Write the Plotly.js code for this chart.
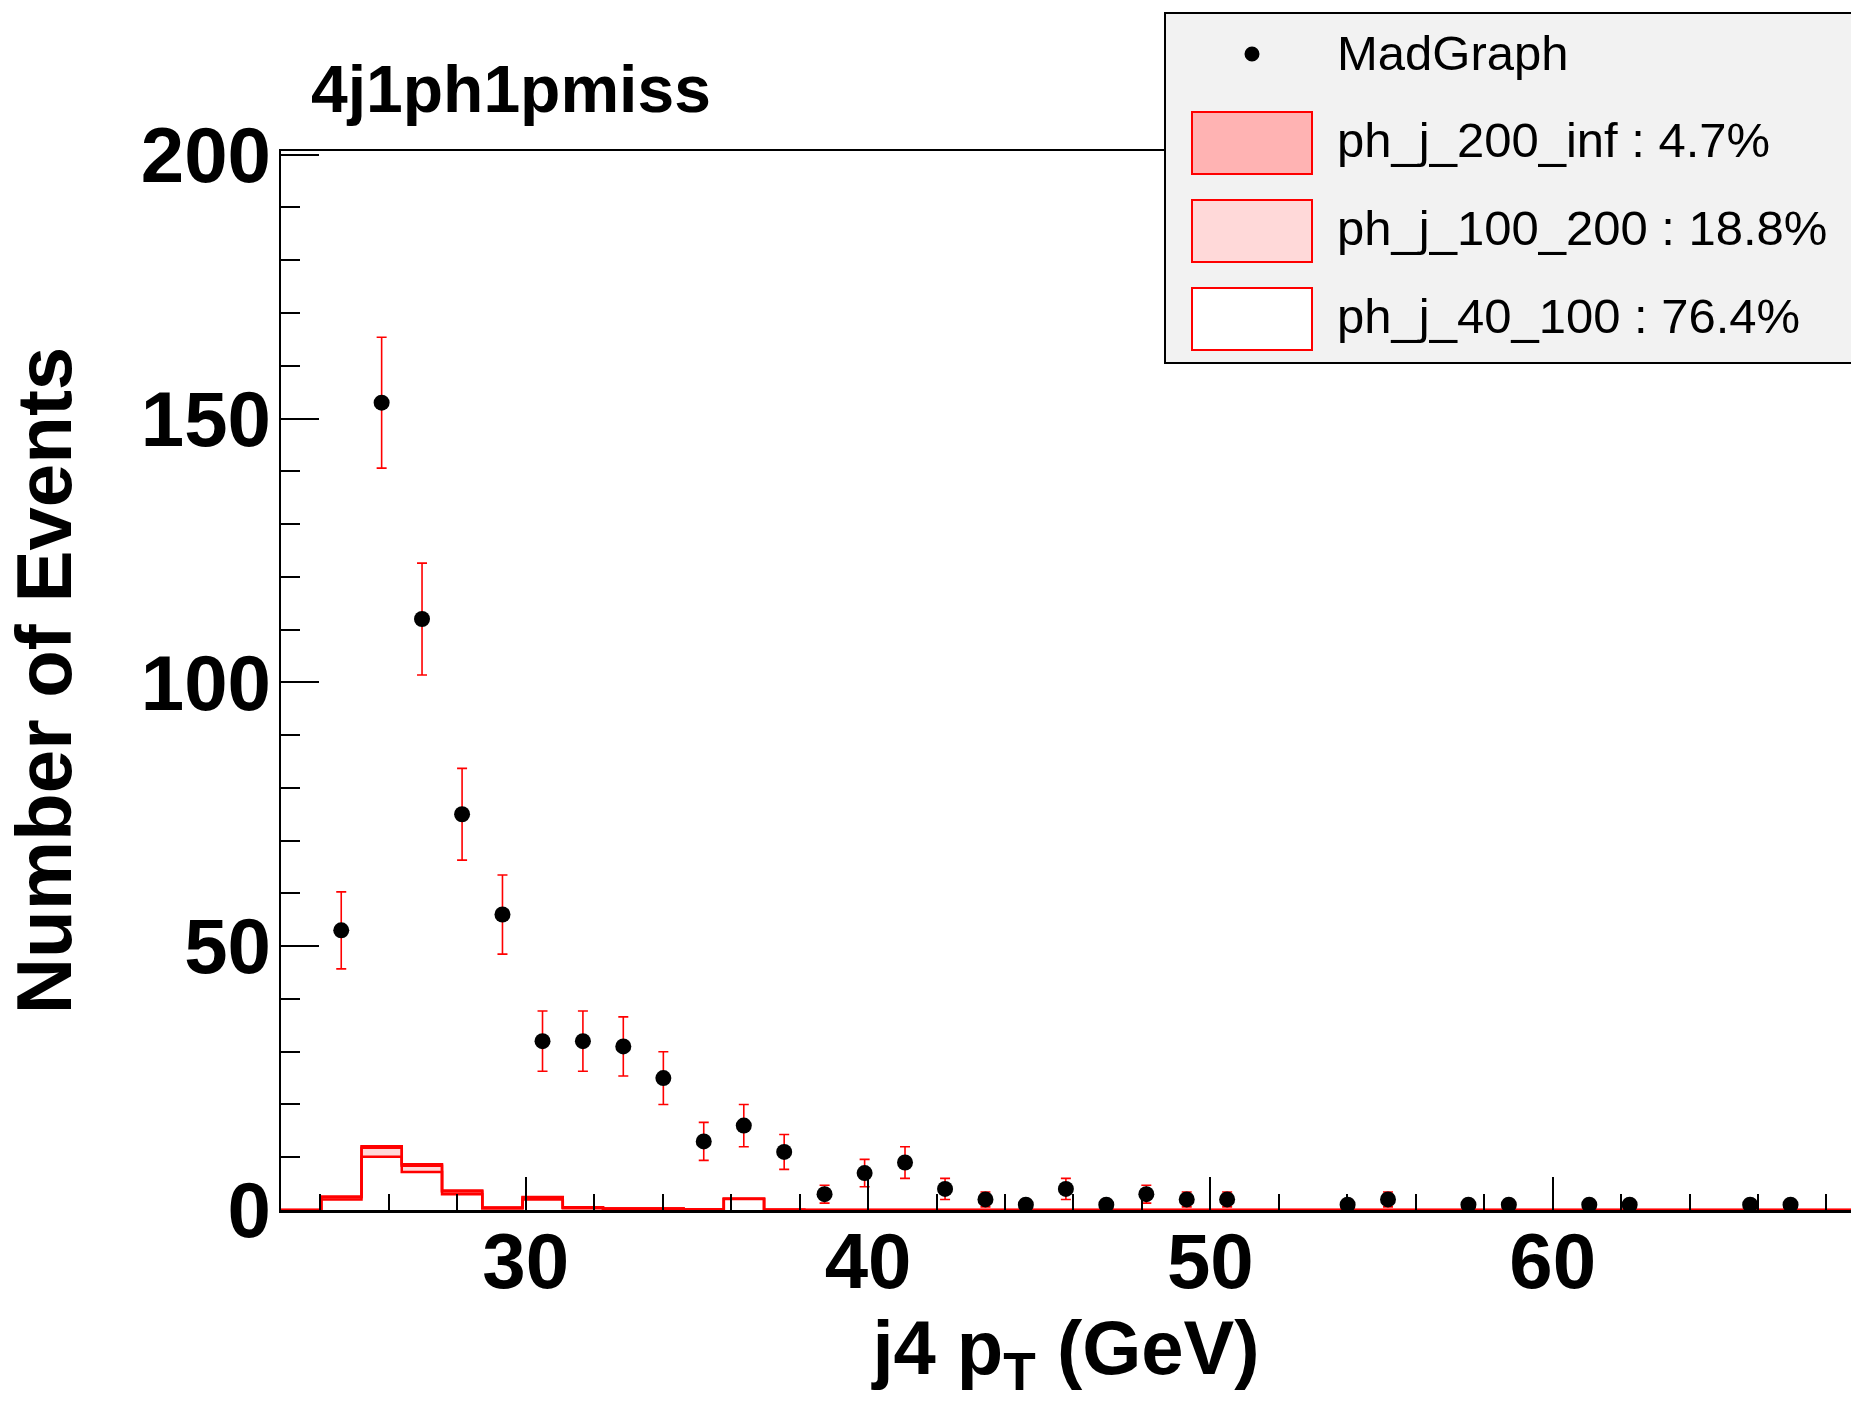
<!DOCTYPE html>
<html><head><meta charset="utf-8">
<script src="https://cdn.plot.ly/plotly-3.0.1.min.js"></script>
<style>html,body{margin:0;padding:0;background:#fff;} #chart{width:1851px;height:1402px;}</style>
</head><body><div id="chart"></div>
<script>
// ---------------- data ----------------
const binLow = 22.85;      // lower edge of the first histogram bin (GeV)
const binWidth = 1.176;    // histogram bin width (GeV)
const nBins = 40;

// MadGraph points (bin centres, counts, errors)
const madgraphX = [24.61, 25.79, 26.97, 28.14, 29.32, 30.49, 31.67, 32.85, 34.02, 35.20,
                   36.37, 37.55, 38.73, 39.90, 41.08, 42.25, 43.43, 44.61, 45.78, 46.96,
                   48.13, 49.31, 50.49, 54.01, 55.19, 57.54, 58.72, 61.07, 62.25, 65.77, 66.95];
const madgraphY = [53, 153, 112, 75, 56, 32, 32, 31, 25, 13,
                   16, 11, 3, 7, 9, 4, 2, 1, 4, 1,
                   3, 2, 2, 1, 2, 1, 1, 1, 1, 1, 1];
const madgraphErr = [7.3, 12.4, 10.6, 8.7, 7.5, 5.7, 5.7, 5.6, 5.0, 3.6,
                     4.0, 3.3, 1.7, 2.6, 3.0, 2.0, 1.4, 1.0, 2.0, 1.0,
                     1.7, 1.4, 1.4, 1.0, 1.4, 1.0, 1.0, 1.0, 1.0, 1.0, 1.0];

// stacked histogram components, one value per bin (40 bins)
const h40_100  = [0, 2.0, 10.1, 7.2, 3.0, 0.3, 2.0, 0.35, 0.2, 0.2, 0.1, 2.1, 0.05,
                  0, 0, 0, 0, 0, 0, 0, 0, 0, 0, 0, 0, 0, 0, 0, 0, 0, 0, 0, 0, 0, 0, 0, 0, 0, 0, 0];
const h100_200 = [0, 0.4, 1.7, 1.2, 0.5, 0.12, 0.3, 0.1, 0.08, 0.08, 0, 0.05, 0,
                  0, 0, 0, 0, 0, 0, 0, 0, 0, 0, 0, 0, 0, 0, 0, 0, 0, 0, 0, 0, 0, 0, 0, 0, 0, 0, 0];
const h200_inf = [0, 0.15, 0.3, 0.25, 0.2, 0.05, 0.15, 0.05, 0, 0, 0, 0, 0,
                  0, 0, 0, 0, 0, 0, 0, 0, 0, 0, 0, 0, 0, 0, 0, 0, 0, 0, 0, 0, 0, 0, 0, 0, 0, 0, 0];

const legendLabels = ['MadGraph', 'ph_j_200_inf : 4.7%', 'ph_j_100_200 : 18.8%', 'ph_j_40_100 : 76.4%'];
const chartTitle = '4j1ph1pmiss';
const xTitle = 'j4 p<sub>T</sub> (GeV)';
const yTitle = 'Number of Events';

// ---------------- styling / geometry ----------------
const W = 1851, H = 1402;
const M = {l: 281, r: 0, t: 151, b: 192};
const FONT = 'Liberation Sans, Arial, Helvetica, sans-serif';
const colWhite = '#ffffff', colPink = '#ffd9d9', colRose = '#ffb3b3';

const edges = [];
for (let i = 0; i <= nBins; i++) edges.push(+(binLow + i * binWidth).toFixed(4));
const stepY = v => v.concat([v[v.length - 1]]);

const plotW = W - M.l - M.r, plotH = H - M.t - M.b;
const px = x => (x - M.l) / plotW;          // pixel -> paper x
const py = y => (H - M.b - y) / plotH;      // pixel -> paper y

function histTrace(vals, fill, name) {
  return {type: 'scatter', mode: 'lines', name: name, x: edges, y: stepY(vals),
          stackgroup: 'mc', line: {shape: 'hv', color: '#ff0000', width: 2.5},
          fillcolor: fill, hoverinfo: 'skip', showlegend: false};
}

const traces = [
  histTrace(h40_100, colWhite, legendLabels[3]),
  histTrace(h100_200, colPink, legendLabels[2]),
  histTrace(h200_inf, colRose, legendLabels[1]),
  {type: 'scatter', mode: 'markers', name: legendLabels[0], x: madgraphX, y: madgraphY,
   marker: {color: '#000000', size: 16},
   error_y: {type: 'data', array: madgraphErr, visible: true, color: '#ff0000', thickness: 1.6, width: 5},
   showlegend: false}
];

// hand-made legend (box, swatches, labels)
const shapes = [
  {type: 'rect', xref: 'paper', yref: 'paper', x0: px(1165), x1: px(1870), y0: py(363), y1: py(13),
   fillcolor: '#f2f2f2', line: {color: '#000000', width: 2}, layer: 'above'},
  {type: 'circle', xref: 'paper', yref: 'paper', x0: px(1244.5), x1: px(1259.5), y0: py(61.5), y1: py(46.5),
   fillcolor: '#000000', line: {color: '#000000', width: 0}, layer: 'above'},
  {type: 'rect', xref: 'paper', yref: 'paper', x0: px(1192), x1: px(1312), y0: py(174), y1: py(112),
   fillcolor: colRose, line: {color: '#ff0000', width: 2}, layer: 'above'},
  {type: 'rect', xref: 'paper', yref: 'paper', x0: px(1192), x1: px(1312), y0: py(262), y1: py(200),
   fillcolor: colPink, line: {color: '#ff0000', width: 2}, layer: 'above'},
  {type: 'rect', xref: 'paper', yref: 'paper', x0: px(1192), x1: px(1312), y0: py(350), y1: py(288),
   fillcolor: colWhite, line: {color: '#ff0000', width: 2}, layer: 'above'}
];
const legendY = [53, 140, 228, 316];
const annotations = legendLabels.map((t, i) => ({
  text: t, xref: 'paper', yref: 'paper', x: px(1335), y: py(legendY[i]),
  xanchor: 'left', yanchor: 'middle', showarrow: false,
  font: {family: FONT, size: 49, color: '#000000'}
}));

const layout = {
  width: W, height: H, margin: M,
  paper_bgcolor: '#ffffff', plot_bgcolor: '#ffffff',
  showlegend: false,
  title: {text: chartTitle, xref: 'container', yref: 'container', x: 311 / W, xanchor: 'left',
          y: 1 - 89 / H, yanchor: 'middle',
          font: {family: FONT, size: 66, weight: 'bold', color: '#000000'}},
  xaxis: {range: [binLow, binLow + plotW / 34.23], tick0: 0, dtick: 10,
          ticks: 'inside', ticklen: 33, tickwidth: 2, tickcolor: '#000000',
          minor: {dtick: 2, tick0: 0, ticks: 'inside', ticklen: 16, tickwidth: 2, tickcolor: '#000000', showgrid: false},
          showline: true, linewidth: 2.5, linecolor: '#000000', mirror: true,
          showgrid: false, zeroline: false, ticklabelstandoff: -18,
          tickfont: {family: FONT, size: 78, weight: 'bold', color: '#000000'},
          title: {text: xTitle, standoff: 0, font: {family: FONT, size: 76, weight: 'bold', color: '#000000'}}},
  yaxis: {range: [0, 200.7], tick0: 0, dtick: 50,
          ticks: 'inside', ticklen: 38, tickwidth: 2, tickcolor: '#000000',
          minor: {dtick: 10, tick0: 0, ticks: 'inside', ticklen: 19, tickwidth: 2, tickcolor: '#000000', showgrid: false},
          showline: true, linewidth: 2.5, linecolor: '#000000', mirror: false,
          showgrid: false, zeroline: false, ticklabelstandoff: -8,
          tickfont: {family: FONT, size: 78, weight: 'bold', color: '#000000'},
          title: {text: yTitle, standoff: 45, font: {family: FONT, size: 78, weight: 'bold', color: '#000000'}}},
  shapes: shapes,
  annotations: annotations
};

Plotly.newPlot('chart', traces, layout, {displayModeBar: false, staticPlot: true});
</script>
</body></html>
